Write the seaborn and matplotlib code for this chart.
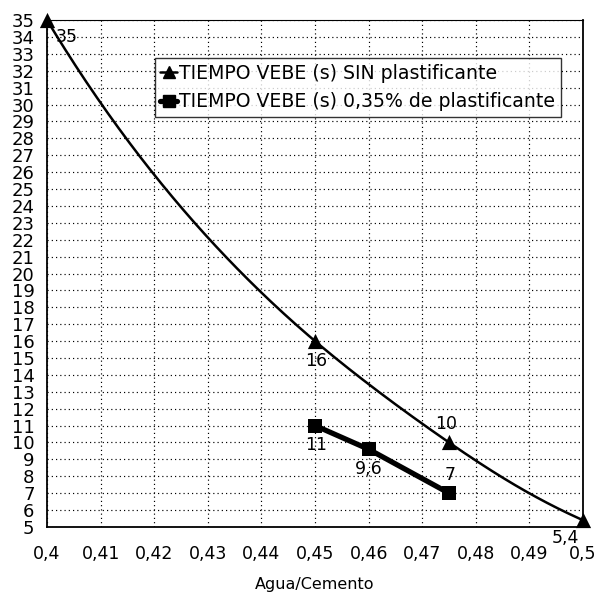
import numpy as np
import pandas as pd
import matplotlib
matplotlib.use("Agg")
import matplotlib.pyplot as plt
from matplotlib.lines import Line2D
import seaborn as sns

# Vebe time vs water/cement ratio
ac_sin = [0.40, 0.45, 0.475, 0.50]
vebe_sin = [35, 16, 10, 5.4]
labels_sin = ["35", "16", "10", "5,4"]

ac_plast = [0.45, 0.46, 0.475]
vebe_plast = [11, 9.6, 7]
labels_plast = ["11", "9,6", "7"]

serie_sin = "TIEMPO VEBE (s) SIN plastificante"
serie_plast = "TIEMPO VEBE (s) 0,35% de plastificante"

x_ticks = [0.40, 0.41, 0.42, 0.43, 0.44, 0.45, 0.46, 0.47, 0.48, 0.49, 0.50]
x_ticklabels = ["0,4", "0,41", "0,42", "0,43", "0,44", "0,45", "0,46",
                "0,47", "0,48", "0,49", "0,5"]
y_ticks = list(range(5, 36))


def smooth_curve(x, y, n=300):
    """Smoothed line through the points: natural cubic spline of log(y)."""
    x = np.asarray(x, float)
    y = np.log(np.asarray(y, float))
    k = len(x)
    h = np.diff(x)
    A = np.zeros((k, k))
    b = np.zeros(k)
    A[0, 0] = A[-1, -1] = 1
    for i in range(1, k - 1):
        A[i, i - 1] = h[i - 1]
        A[i, i] = 2 * (h[i - 1] + h[i])
        A[i, i + 1] = h[i]
        b[i] = 6 * ((y[i + 1] - y[i]) / h[i] - (y[i] - y[i - 1]) / h[i - 1])
    M = np.linalg.solve(A, b)
    xs = np.linspace(x[0], x[-1], n)
    idx = np.clip(np.searchsorted(x, xs) - 1, 0, k - 2)
    x0, x1 = x[idx], x[idx + 1]
    hh = x1 - x0
    t0, t1 = x1 - xs, xs - x0
    ys = (M[idx] * t0 ** 3 + M[idx + 1] * t1 ** 3) / (6 * hh) \
        + (y[idx] / hh - M[idx] * hh / 6) * t0 \
        + (y[idx + 1] / hh - M[idx + 1] * hh / 6) * t1
    return xs, np.exp(ys)


sns.set_theme(style="white")
plt.rcParams["font.family"] = ["DejaVu Sans"]
plt.rcParams["text.color"] = "black"
plt.rcParams["axes.labelcolor"] = "black"

fig = plt.figure(figsize=(5.98, 5.96), dpi=100)
ax = fig.add_axes([0.0786, 0.1158, 0.8964, 0.8506])

# smoothed line for the series without plasticiser
xs, ys = smooth_curve(ac_sin, vebe_sin)
curve = pd.DataFrame({"ac": xs, "vebe": ys})
sns.lineplot(data=curve, x="ac", y="vebe", ax=ax, color="black", lw=1.8,
             sort=False, estimator=None, legend=False, zorder=3)
sns.scatterplot(x=ac_sin, y=vebe_sin, ax=ax, marker="^", s=120, color="black",
                edgecolor="black", linewidth=0, zorder=4, clip_on=False)

# straight segments for the series with plasticiser
plast = pd.DataFrame({"ac": ac_plast, "vebe": vebe_plast})
sns.lineplot(data=plast, x="ac", y="vebe", ax=ax, color="black", lw=3.8,
             estimator=None, legend=False, zorder=3)
sns.scatterplot(x=ac_plast, y=vebe_plast, ax=ax, marker="s", s=95, color="black",
                edgecolor="black", linewidth=0, zorder=4, clip_on=False)

# data labels
lab_kw = dict(fontsize=12.5, color="black", zorder=5,
              textcoords="offset points", va="center", annotation_clip=False)
offsets_sin = [(6, -12, "left"), (1, -14, "center"), (-2, 13, "center"),
               (-13, -13, "center")]
for xv, yv, txt, (dx, dy, ha) in zip(ac_sin, vebe_sin, labels_sin, offsets_sin):
    ax.annotate(txt, (xv, yv), xytext=(dx, dy), ha=ha, **lab_kw)
offsets_plast = [(1, -14), (0, -14), (1, 13)]
for xv, yv, txt, (dx, dy) in zip(ac_plast, vebe_plast, labels_plast, offsets_plast):
    ax.annotate(txt, (xv, yv), xytext=(dx, dy), ha="center", **lab_kw)

ax.set_xlim(0.40, 0.50)
ax.set_ylim(5, 35)
ax.set_xticks(x_ticks)
ax.set_xticklabels(x_ticklabels)
ax.set_yticks(y_ticks)
ax.set_yticklabels([str(v) for v in y_ticks])
ax.tick_params(axis="both", colors="black", direction="out", length=5, width=1)
ax.tick_params(axis="y", labelsize=13, pad=4)
ax.tick_params(axis="x", labelsize=12.5, pad=8)
ax.grid(True, color="black", linestyle=(0, (1, 2.6)), linewidth=0.85)
for side in ["left", "bottom", "right", "top"]:
    ax.spines[side].set_color("black")
    ax.spines[side].set_linewidth(1.3)
ax.spines["top"].set_linewidth(0.8)

ax.set_xlabel("Agua/Cemento", fontsize=11.5, color="black")
ax.xaxis.set_label_coords(0.5, -0.098)
ax.set_ylabel("")

handles = [
    Line2D([], [], color="black", marker="^", markersize=9, lw=1.8),
    Line2D([], [], color="black", marker="s", markersize=8, lw=3.8),
]
leg = ax.legend(handles, [serie_sin, serie_plast], loc="upper left",
                bbox_to_anchor=(0.201, 0.925), fontsize=13.6, frameon=True,
                fancybox=False, edgecolor="black", handlelength=0.9,
                handletextpad=0.1, borderpad=0.3, labelspacing=0.5,
                borderaxespad=0)
leg.get_frame().set_linewidth(1.0)
leg.get_frame().set_facecolor("white")
leg.set_zorder(6)
for t in leg.get_texts():
    t.set_color("black")

fig.savefig("out.png", dpi=100)
